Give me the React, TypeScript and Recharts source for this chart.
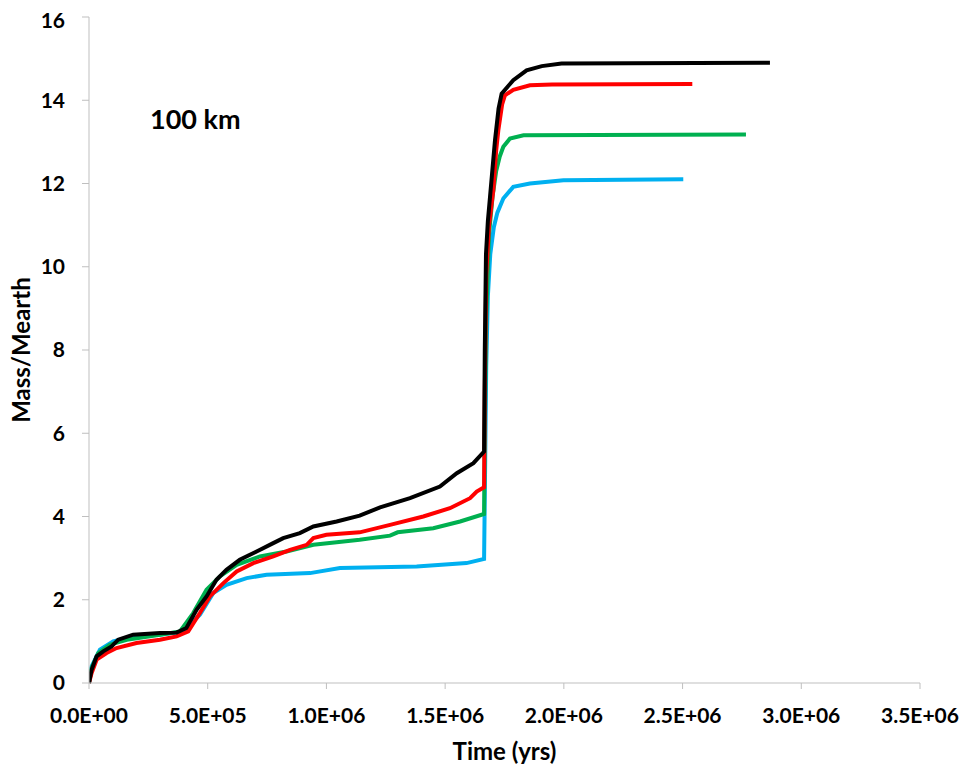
import { LineChart, Line, XAxis, YAxis } from 'recharts'

// time (yrs), mass (Mearth) pairs
const blackSeries: [number, number][] = [
  [0, 0], [1.1e4, 0.32], [3.2e4, 0.64], [6.0e4, 0.76], [9.5e4, 0.88], [1.23e5, 1.04],
  [1.86e5, 1.16], [2.99e5, 1.2], [3.69e5, 1.21], [4.1e5, 1.32], [4.53e5, 1.76],
  [4.95e5, 2.08], [5.37e5, 2.48], [5.79e5, 2.72], [6.35e5, 2.96], [7.06e5, 3.16],
  [7.76e5, 3.36], [8.18e5, 3.48], [8.88e5, 3.6], [9.45e5, 3.76], [1.043e6, 3.88],
  [1.14e6, 4.02], [1.226e6, 4.22], [1.352e6, 4.44], [1.478e6, 4.72], [1.549e6, 5.04],
  [1.619e6, 5.28], [1.664e6, 5.56], [1.667e6, 8.0], [1.672e6, 10.3], [1.68e6, 11.1],
  [1.689e6, 11.68], [1.71e6, 13.04], [1.725e6, 13.8], [1.738e6, 14.16], [1.787e6, 14.48],
  [1.843e6, 14.72], [1.907e6, 14.82], [1.99e6, 14.88], [2.868e6, 14.9],
]

const redSeries: [number, number][] = [
  [0, 0], [1.1e4, 0.24], [3.2e4, 0.56], [7.4e4, 0.72], [1.16e5, 0.84], [2.0e5, 0.96],
  [2.99e5, 1.04], [3.69e5, 1.12], [4.18e5, 1.24], [4.67e5, 1.68], [5.09e5, 2.08],
  [5.66e5, 2.4], [6.22e5, 2.68], [6.92e5, 2.88], [7.76e5, 3.04], [8.47e5, 3.2],
  [9.17e5, 3.32], [9.45e5, 3.48], [1.0e6, 3.56], [1.14e6, 3.62], [1.268e6, 3.8],
  [1.408e6, 4.0], [1.52e6, 4.2], [1.605e6, 4.44], [1.633e6, 4.6], [1.664e6, 4.7],
  [1.667e6, 7.0], [1.673e6, 9.8], [1.685e6, 11.0], [1.703e6, 11.84], [1.715e6, 12.8],
  [1.724e6, 13.28], [1.74e6, 13.9], [1.752e6, 14.12], [1.787e6, 14.25], [1.857e6, 14.36],
  [1.95e6, 14.38], [2.541e6, 14.39],
]

const greenSeries: [number, number][] = [
  [0, 0], [1.1e4, 0.36], [3.9e4, 0.72], [8.8e4, 0.92], [1.59e5, 1.04], [2.99e5, 1.16],
  [3.83e5, 1.24], [4.39e5, 1.68], [4.95e5, 2.24], [5.51e5, 2.56], [6.22e5, 2.84],
  [7.2e5, 3.04], [8.32e5, 3.16], [9.45e5, 3.32], [1.043e6, 3.38], [1.14e6, 3.44],
  [1.268e6, 3.54], [1.3e6, 3.62], [1.45e6, 3.72], [1.563e6, 3.88], [1.664e6, 4.06],
  [1.667e6, 6.0], [1.673e6, 8.8], [1.685e6, 10.8], [1.7e6, 11.7], [1.715e6, 12.3],
  [1.73e6, 12.65], [1.745e6, 12.88], [1.773e6, 13.08], [1.83e6, 13.16], [2.767e6, 13.18],
]

const blueSeries: [number, number][] = [
  [0, 0], [1.1e4, 0.4], [4.6e4, 0.8], [1.02e5, 1.0], [1.86e5, 1.12], [2.99e5, 1.16],
  [3.97e5, 1.24], [4.67e5, 1.64], [5.23e5, 2.16], [5.79e5, 2.36], [6.64e5, 2.52],
  [7.48e5, 2.6], [9.31e5, 2.64], [1.057e6, 2.76], [1.38e6, 2.8], [1.59e6, 2.88],
  [1.664e6, 2.98], [1.668e6, 5.0], [1.673e6, 7.6], [1.68e6, 9.3], [1.69e6, 10.3],
  [1.705e6, 10.95], [1.72e6, 11.3], [1.745e6, 11.64], [1.787e6, 11.92], [1.857e6, 12.0],
  [1.998e6, 12.08], [2.503e6, 12.1],
]

const xTicks = [0, 5e5, 1e6, 1.5e6, 2e6, 2.5e6, 3e6, 3.5e6]
const yTicks = [0, 2, 4, 6, 8, 10, 12, 14, 16]

// drawn in this order so black ends up on top
const series = [
  { name: 'blue', color: '#00B0F0', points: blueSeries },
  { name: 'green', color: '#00B050', points: greenSeries },
  { name: 'red', color: '#FF0000', points: redSeries },
  { name: 'black', color: '#000000', points: blackSeries },
]

const toRows = (pts: [number, number][]) => pts.map(([t, m]) => ({ t, m }))

// Excel style scientific label, e.g. 5.0E+05
const sci = (v: number) => {
  const [mant, exp] = v.toExponential(1).split('e')
  const n = parseInt(exp, 10)
  const sign = n < 0 ? '-' : '+'
  return `${mant}E${sign}${String(Math.abs(n)).padStart(2, '0')}`
}

const font = 'Lato, "Open Sans", sans-serif'
const tickStyle = { fontFamily: font, fontWeight: 700, fontSize: 21, fill: '#000' }
const titleStyle = { fontFamily: font, fontWeight: 700, fontSize: 24, fill: '#000' }

export default function App() {
  return (
    <div style={{ position: 'relative', width: 959, height: 760 }}>
      <LineChart width={959} height={760} margin={{ top: 9, right: 47, bottom: 0, left: 0 }}>
        <XAxis
          type="number"
          dataKey="t"
          domain={[0, 3.5e6]}
          ticks={xTicks}
          tickFormatter={sci}
          allowDataOverflow
          height={85}
          stroke="#BFBFBF"
          tickSize={6}
          tickMargin={19}
          tick={tickStyle}
          label={{ value: 'Time (yrs)', position: 'insideBottom', offset: 8, style: titleStyle }}
        />
        <YAxis
          type="number"
          dataKey="m"
          domain={[0, 16]}
          ticks={yTicks}
          width={81}
          stroke="#BFBFBF"
          tickSize={7}
          tickMargin={17}
          tick={tickStyle}
        />
        {series.map((s) => (
          <Line
            key={s.name}
            data={toRows(s.points)}
            dataKey="m"
            type="linear"
            stroke={s.color}
            strokeWidth={4}
            dot={false}
            activeDot={false}
            isAnimationActive={false}
          />
        ))}
      </LineChart>
      {/* y axis title, rotated */}
      <div
        style={{
          position: 'absolute',
          left: 13,
          top: 342,
          transform: 'translate(-50%, -50%) rotate(180deg)',
          writingMode: 'vertical-rl',
          whiteSpace: 'nowrap',
          lineHeight: 1,
          fontFamily: font,
          fontWeight: 700,
          fontSize: 24,
          color: '#000',
        }}
      >
        Mass/Mearth
      </div>
      <div
        style={{
          position: 'absolute',
          left: 142,
          top: 94,
          fontFamily: font,
          fontWeight: 700,
          fontSize: 27,
          color: '#000',
        }}
      >
        100 km
      </div>
    </div>
  )
}
